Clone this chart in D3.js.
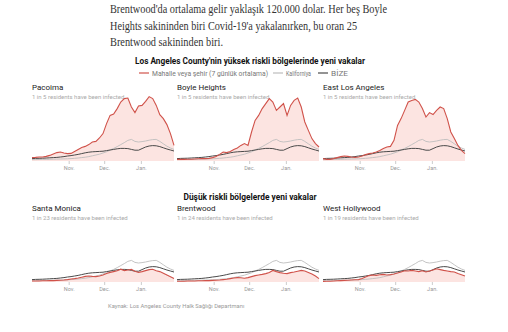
<!DOCTYPE html>
<html>
<head>
<meta charset="utf-8">
<script src="https://cdn.jsdelivr.net/npm/d3@7"></script>
<style>
  body { margin: 0; background: #fff; }
  svg { display: block; }
</style>
</head>
<body>
<div id="chart"></div>
<script>
// intro paragraph (serif, above the charts)
const introLines = [
  "Brentwood'da ortalama gelir yaklaşık 120.000 dolar. Her beş Boyle",
  "Heights sakininden biri Covid-19'a yakalanırken, bu oran 25",
  "Brentwood sakininden biri."
];
const introWidths = [277, 247, 113];

const sectionTitles = [
  "Los Angeles County'nin yüksek riskli bölgelerinde yeni vakalar",
  "Düşük riskli bölgelerde yeni vakalar"
];
const legendLabels = ["Mahalle veya şehir (7 günlük ortalama)", "Kaliforniya", "BİZE"];
const tickLabels = ["Nov.", "Dec.", "Jan."];
const source = "Kaynak: Los Angeles County Halk Sağlığı Departmanı";

const places = ["Pacoima", "Boyle Heights", "East Los Angeles", "Santa Monica", "Brentwood", "West Hollywood"];
const infected = [5, 5, 5, 23, 24, 19];

// new cases per 100k, 7-day average, every 3 days from Oct 1 to Jan 29
const california = [7, 7, 7.5, 8, 8, 8.5, 9, 9.5, 10, 10.5, 11, 12, 13.5, 15, 17, 19, 22, 26, 30, 34,
  40, 46, 55, 63, 72, 82, 92, 103, 108, 98, 95, 97, 100, 104, 107, 108, 98, 86, 74, 65, 58];
const unitedStates = [12, 13, 13.5, 14, 15, 16, 17, 18, 20, 22, 25, 27, 30, 33, 37, 41, 44, 46, 47, 48,
  49, 52, 55, 58, 61, 63, 63, 62, 58, 54, 54, 62, 70, 75, 77, 76, 72, 66, 60, 55, 50];

const pacoima = [17, 18, 20, 20, 23, 28, 35, 42, 45, 40, 37, 38, 48, 58, 68, 73, 82, 95, 98, 115,
  137, 187, 228, 235, 262, 295, 312, 315, 270, 242, 275, 278, 298, 322, 312, 278, 232, 212, 182, 137, 78];
const boyleHeights = [8, 8, 8, 9, 9, 10, 11, 12, 12, 13, 17, 23, 33, 45, 42, 48, 58, 65, 78, 87,
  78, 145, 203, 228, 262, 287, 312, 295, 253, 270, 287, 228, 278, 303, 315, 270, 195, 153, 112, 87, 70];
const eastLA = [12, 8, 8, 12, 17, 22, 25, 23, 20, 18, 20, 25, 32, 37, 40, 45, 52, 62, 70, 73,
  103, 178, 212, 253, 295, 303, 308, 295, 262, 220, 242, 232, 253, 270, 262, 212, 145, 112, 78, 53, 37];
const santaMonica = [5, 5, 5, 6, 6, 7, 7, 8, 9, 10, 12, 15, 17, 20, 24, 28, 30, 28, 27, 30,
  35, 42, 48, 52, 56, 64, 57, 60, 63, 54, 48, 52, 57, 62, 64, 56, 52, 44, 35, 26, 17];
const brentwood = [4, 4, 4, 5, 5, 5, 6, 6, 7, 7, 8, 9, 10, 12, 14, 17, 20, 22, 21, 19,
  22, 27, 32, 35, 38, 42, 48, 58, 52, 47, 44, 42, 47, 50, 54, 58, 55, 48, 40, 30, 17];
const westHollywood = [3, 4, 4, 5, 6, 7, 8, 9, 10, 11, 12, 18, 25, 32, 35, 33, 36, 38, 35, 37,
  40, 45, 50, 56, 55, 58, 55, 52, 56, 50, 55, 60, 66, 62, 58, 55, 52, 50, 42, 36, 30];

const placeSeries = [pacoima, boyleHeights, eastLA, santaMonica, brentwood, westHollywood];

const W = 508, H = 332;
const red = "#d0524a", pink = "#fce4e1", gray = "#bdbdbd", dark = "#4a4a4a";
const sans = "Roboto, 'Liberation Sans', Arial, sans-serif";

const svg = d3.select("#chart").append("svg")
  .attr("width", W)
  .attr("height", H);

// intro paragraph
svg.selectAll("text.intro")
  .data(introLines)
  .join("text")
  .attr("class", "intro")
  .attr("x", 110)
  .attr("y", (d, i) => 13 + i * 16.5)
  .attr("textLength", (d, i) => introWidths[i])
  .attr("lengthAdjust", "spacingAndGlyphs")
  .style("font-family", "'Liberation Serif', 'DejaVu Serif', serif")
  .style("font-size", "12.5px")
  .style("fill", "#333")
  .text(d => d);

// section titles
const sectionY = [64, 200];
const sectionW = [230, 133];
svg.selectAll("text.section")
  .data(sectionTitles)
  .join("text")
  .attr("class", "section")
  .attr("x", 250)
  .attr("y", (d, i) => sectionY[i])
  .attr("text-anchor", "middle")
  .attr("textLength", (d, i) => sectionW[i])
  .attr("lengthAdjust", "spacingAndGlyphs")
  .style("font-family", sans)
  .style("font-weight", "bold")
  .style("font-size", "8.5px")
  .style("fill", "#121212")
  .text(d => d);

// legend
const legendX = [139, 273, 318];
const legendW = [116, 25, 17];
const legendColors = [red, gray, dark];
const legend = svg.append("g").attr("transform", "translate(0,73)");
legend.selectAll("line")
  .data(legendLabels)
  .join("line")
  .attr("x1", (d, i) => legendX[i])
  .attr("x2", (d, i) => legendX[i] + 10)
  .attr("stroke", (d, i) => legendColors[i])
  .attr("stroke-width", 1.2);
legend.selectAll("text")
  .data(legendLabels)
  .join("text")
  .attr("x", (d, i) => legendX[i] + 13)
  .attr("y", 2.5)
  .attr("textLength", (d, i) => legendW[i])
  .attr("lengthAdjust", "spacingAndGlyphs")
  .style("font-family", sans)
  .style("font-size", "7.2px")
  .style("fill", "#777")
  .text(d => d);

// scales
const dates = d3.timeDay.range(new Date(2020, 9, 1), new Date(2021, 0, 31), 3);
const chartW = 142, chartH = 66;
const x = d3.scaleTime()
  .domain([new Date(2020, 9, 1), new Date(2021, 0, 29)])
  .range([0, chartW]);
const y = d3.scaleLinear().domain([0, 330]).range([chartH, 0]);

const line = d3.line()
  .x((d, i) => x(dates[i]))
  .y(d => y(d));
const area = d3.area()
  .x((d, i) => x(dates[i]))
  .y0(chartH)
  .y1(d => y(d));

const colX = [32, 177, 323];
const rowTop = [81, 202];
const tickDates = [new Date(2020, 10, 1), new Date(2020, 11, 1), new Date(2021, 0, 1)];

places.forEach((name, k) => {
  const g = svg.append("g")
    .attr("transform", `translate(${colX[k % 3]},${rowTop[Math.floor(k / 3)]})`);

  g.append("text")
    .attr("y", 9)
    .style("font-family", sans)
    .style("font-size", "8px")
    .style("fill", "#222")
    .text(name);
  g.append("text")
    .attr("y", 17.5)
    .style("font-family", sans)
    .style("font-size", "6px")
    .style("fill", "#aaa")
    .text(`1 in ${infected[k]} residents have been infected`);

  const plot = g.append("g").attr("transform", `translate(0,${80 - chartH})`);

  plot.append("path")
    .attr("d", area(placeSeries[k]))
    .attr("fill", pink);
  plot.append("path")
    .attr("d", line(california))
    .attr("fill", "none")
    .attr("stroke", gray)
    .attr("stroke-width", 0.9);
  plot.append("path")
    .attr("d", line(unitedStates))
    .attr("fill", "none")
    .attr("stroke", dark)
    .attr("stroke-width", 1);
  plot.append("path")
    .attr("d", line(placeSeries[k]))
    .attr("fill", "none")
    .attr("stroke", red)
    .attr("stroke-width", 1.1);

  const axis = plot.append("g")
    .attr("transform", `translate(0,${chartH})`)
    .call(d3.axisBottom(x)
      .tickValues(tickDates)
      .tickFormat((d, i) => tickLabels[i])
      .tickSize(3)
      .tickPadding(2));
  axis.select(".domain").remove();
  axis.selectAll(".tick line").attr("stroke", "#ccc");
  axis.selectAll(".tick text")
    .style("font-family", sans)
    .style("font-size", "5.5px")
    .style("fill", "#999");
});

// source note
svg.append("text")
  .attr("x", 108)
  .attr("y", 308)
  .style("font-family", sans)
  .style("font-size", "5.8px")
  .style("fill", "#999")
  .text(source);
</script>
</body>
</html>
